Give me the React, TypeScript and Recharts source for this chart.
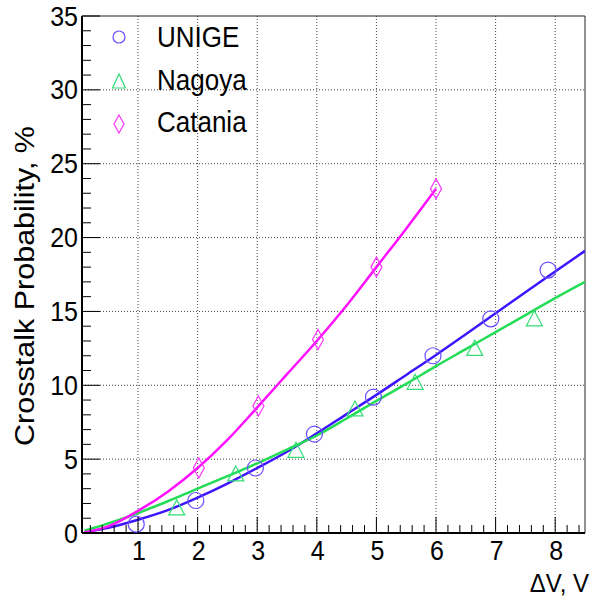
import { ComposedChart, Line, Scatter, XAxis, YAxis, ReferenceLine } from "recharts";

// measured points
const unigeX = [0.97, 1.97, 2.97, 3.96, 4.95, 5.95, 6.92, 7.88];
const unigeY = [0.6, 2.2, 4.4, 6.7, 9.2, 12.0, 14.5, 17.8];
const nagoyaX = [1.65, 2.64, 3.65, 4.64, 5.65, 6.65, 7.65];
const nagoyaY = [1.7, 4.0, 5.6, 8.4, 10.2, 12.5, 14.5];
const cataniaX = [2.02, 3.02, 4.02, 5.0, 6.0];
const cataniaY = [4.4, 8.6, 13.1, 18.0, 23.3];

// fit curves
const fitX = [0.1, 0.5, 1, 1.5, 2, 2.5, 3, 3.5, 4, 4.5, 5, 5.5, 6, 6.5, 7, 7.5, 8, 8.5];
const unigeFit = [0.05, 0.35, 0.9, 1.55, 2.4, 3.35, 4.4, 5.5, 6.75, 8.05, 9.35, 10.7, 12.05, 13.45, 14.87, 16.3, 17.7, 19.1];
const nagoyaFit = [0.15, 0.65, 1.35, 2.15, 3.0, 3.85, 4.72, 5.65, 6.6, 7.75, 8.95, 10.1, 11.3, 12.45, 13.6, 14.75, 15.9, 17.0];
const cataniaFitX = [0.1, 0.5, 1, 1.5, 2, 2.5, 3, 3.5, 4, 4.5, 5, 5.5, 6];
const cataniaFit = [0.05, 0.45, 1.5, 2.8, 4.4, 6.3, 8.5, 10.75, 13.0, 15.4, 18.0, 20.6, 23.3];

const xMajor = [1, 2, 3, 4, 5, 6, 7, 8];
const yMajor = [0, 5, 10, 15, 20, 25, 30, 35];
const xTicks = Array.from({ length: 42 }, (_, i) => Math.round((i + 1) * 2) / 10);
const yTicks = Array.from({ length: 36 }, (_, i) => i);

const seriesNames = ["UNIGE", "Nagoya", "Catania"];

const BLUE_LINE = "#3f14ff";
const BLUE_MARK = "#6a4cff";
const GREEN_LINE = "#22dd55";
const GREEN_MARK = "#33dd77";
const PINK_LINE = "#ff10ff";
const PINK_MARK = "#ff33ff";

const FONT = "'Liberation Sans', Arial, Helvetica, sans-serif";
const STRETCH = 1.1; // the reference text is a little taller than wide

const zip = (xs: number[], ys: number[]) => xs.map((x, i) => ({ x, y: ys[i] }));

const unigePts = zip(unigeX, unigeY);
const nagoyaPts = zip(nagoyaX, nagoyaY);
const cataniaPts = zip(cataniaX, cataniaY);
const unigeLine = zip(fitX, unigeFit);
const nagoyaLine = zip(fitX, nagoyaFit);
const cataniaLine = zip(cataniaFitX, cataniaFit);

const isMajor = (v: number, list: number[]) => list.some((m) => Math.abs(m - v) < 1e-6);

// text scaled vertically around its baseline point
const Tall = ({ x, y, anchor = "start", size, children }: any) => (
  <text
    transform={`translate(${x},${y}) scale(1,${STRETCH})`}
    textAnchor={anchor}
    fontSize={size}
    fontFamily={FONT}
    fill="#000"
  >
    {children}
  </text>
);

const XTick = (props: any) => {
  const { x, y, payload } = props;
  const major = isMajor(payload.value, xMajor);
  return (
    <g>
      <line x1={x} x2={x} y1={y} y2={y - (major ? 16 : 8)} stroke="#000" strokeWidth={1} />
      {major && (
        <Tall x={x + 1} y={y + 27} anchor="middle" size={25}>
          {payload.value}
        </Tall>
      )}
    </g>
  );
};

const YTick = (props: any) => {
  const { x, y, payload } = props;
  const major = isMajor(payload.value, yMajor);
  return (
    <g>
      <line x1={x} x2={x + (major ? 18 : 9)} y1={y} y2={y} stroke="#000" strokeWidth={1} />
      {major && (
        <Tall x={x - 4} y={y + 9.5} anchor="end" size={25}>
          {payload.value}
        </Tall>
      )}
    </g>
  );
};

const CircleMark = (props: any) => (
  <circle cx={props.cx} cy={props.cy} r={8} fill="none" stroke={BLUE_MARK} strokeWidth={1.2} />
);

const TriangleMark = (props: any) => {
  const { cx, cy } = props;
  return (
    <polygon
      points={`${cx - 8},${cy + 7} ${cx + 8},${cy + 7} ${cx},${cy - 8}`}
      fill="none"
      stroke={GREEN_MARK}
      strokeWidth={1.2}
    />
  );
};

const DiamondMark = (props: any) => {
  const { cx, cy } = props;
  return (
    <polygon
      points={`${cx},${cy - 10} ${cx + 5.5},${cy} ${cx},${cy + 10} ${cx - 5.5},${cy}`}
      fill="none"
      stroke={PINK_MARK}
      strokeWidth={1.2}
    />
  );
};

const App = () => {
  return (
    <div style={{ position: "absolute", left: 0, top: 0, width: 597, height: 600, background: "#fff" }}>
      <ComposedChart width={597} height={600} margin={{ top: 16, right: 12, bottom: 37, left: 0 }}>
        <XAxis
          type="number"
          dataKey="x"
          domain={[0.06, 8.5]}
          allowDataOverflow
          ticks={xTicks}
          interval={0}
          tickSize={0}
          tickMargin={0}
          tick={<XTick />}
          axisLine={{ stroke: "#000", strokeWidth: 2 }}
          tickLine={false}
          height={30}
        />
        <YAxis
          type="number"
          domain={[0, 35]}
          allowDataOverflow
          ticks={yTicks}
          interval={0}
          tickSize={0}
          tickMargin={0}
          tick={<YTick />}
          axisLine={{ stroke: "#000", strokeWidth: 2 }}
          tickLine={false}
          width={82}
        />
        {xMajor.map((v) => (
          <ReferenceLine key={`gx${v}`} x={v} stroke="#444" strokeDasharray="1 2" />
        ))}
        {yMajor.slice(1, -1).map((v) => (
          <ReferenceLine key={`gy${v}`} y={v} stroke="#444" strokeDasharray="1 2" />
        ))}
        <ReferenceLine y={35} stroke="#222" strokeWidth={1} />
        <ReferenceLine x={8.5} stroke="#222" strokeWidth={1} />
        <Line data={unigeLine} dataKey="y" type="monotone" stroke={BLUE_LINE} strokeWidth={2.5} dot={false} isAnimationActive={false} />
        <Line data={nagoyaLine} dataKey="y" type="monotone" stroke={GREEN_LINE} strokeWidth={2.5} dot={false} isAnimationActive={false} />
        <Line data={cataniaLine} dataKey="y" type="monotone" stroke={PINK_LINE} strokeWidth={2.5} dot={false} isAnimationActive={false} />
        <Scatter data={unigePts} dataKey="y" shape={<CircleMark />} isAnimationActive={false} />
        <Scatter data={nagoyaPts} dataKey="y" shape={<TriangleMark />} isAnimationActive={false} />
        <Scatter data={cataniaPts} dataKey="y" shape={<DiamondMark />} isAnimationActive={false} />
      </ComposedChart>

      <svg width={597} height={600} style={{ position: "absolute", left: 0, top: 0, pointerEvents: "none" }}>
        {/* legend */}
        <circle cx={119} cy={37} r={6} fill="none" stroke={BLUE_MARK} strokeWidth={1.2} />
        <polygon points="112.5,88 125.5,88 119,74" fill="none" stroke={GREEN_MARK} strokeWidth={1.2} />
        <polygon points="119,115 124,124 119,133 114,124" fill="none" stroke={PINK_MARK} strokeWidth={1.2} />
        {seriesNames.map((n, i) => (
          <Tall key={n} x={157} y={47 + i * 42.5} size={26}>
            {n}
          </Tall>
        ))}
        {/* axis titles */}
        <text
          transform="translate(34,286) rotate(-90)"
          textAnchor="middle"
          fontSize={27}
          fontFamily={FONT}
          fill="#000"
          textLength={320}
          lengthAdjust="spacingAndGlyphs"
        >
          Crosstalk Probability, %
        </text>
        <Tall x={589} y={592} anchor="end" size={24}>
          ΔV, V
        </Tall>
      </svg>
    </div>
  );
};

export default App;
